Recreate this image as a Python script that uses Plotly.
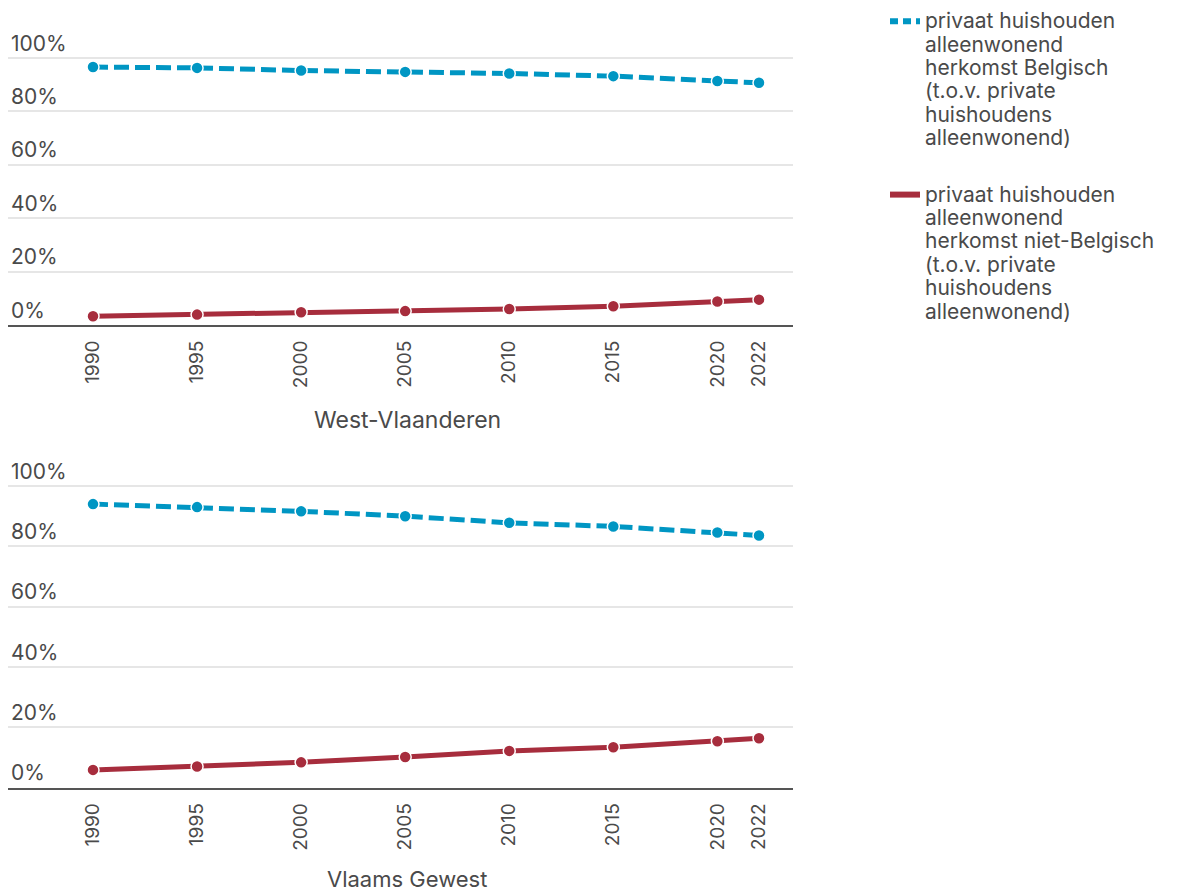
import plotly.graph_objects as go

years = [1990, 1995, 2000, 2005, 2010, 2015, 2020, 2022]
wvl_belg = [96.6, 96.3, 95.3, 94.8, 94.2, 93.2, 91.4, 90.7]
wvl_niet = [3.3, 3.9, 4.8, 5.2, 6.0, 7.0, 8.8, 9.5]
vl_belg = [94.0, 93.0, 91.6, 90.0, 87.8, 86.6, 84.6, 83.6]
vl_niet = [5.9, 7.0, 8.4, 10.2, 12.2, 13.4, 15.4, 16.4]
y_ticks = [0, 20, 40, 60, 80, 100]
y_ticktext = ["0%", "20%", "40%", "60%", "80%", "100%"]
x_ticks = [1990, 1995, 2000, 2005, 2010, 2015, 2020, 2022]
panel_titles = ["West-Vlaanderen", "Vlaams Gewest"]
lines_belg = ["privaat huishouden", "alleenwonend", "herkomst Belgisch",
              "(t.o.v. private", "huishoudens", "alleenwonend)"]
lines_niet = ["privaat huishouden", "alleenwonend", "herkomst niet-Belgisch",
              "(t.o.v. private", "huishoudens", "alleenwonend)"]

BLUE = "#0096c3"
RED = "#a72d3d"
TXT = "#4a4a4a"
FONT = "Inter"

# page offset of the figure inside the browser (body margin)
OFF = 8
W, H = 1178 - OFF, 894 - OFF
PL, PR = 8, 793            # plot left/right on page
L, R = PL - OFF, W - (PR - OFF)
PW = W - L - R
YMAX = 115

def legend_name(lines):
    return "<br>".join('<span style="font-size:21px">%s</span>' % s for s in lines)

fig = go.Figure()

def add_series(xa, ya, blue, red):
    fig.add_trace(go.Scatter(x=years, y=blue, mode="lines+markers", xaxis=xa, yaxis=ya,
                             line=dict(color=BLUE, width=5, dash="15px,6px"),
                             marker=dict(size=12, color=BLUE, line=dict(color="white", width=1.5)),
                             showlegend=False, hoverinfo="x+y"))
    fig.add_trace(go.Scatter(x=years, y=red, mode="lines+markers", xaxis=xa, yaxis=ya,
                             line=dict(color=RED, width=5),
                             marker=dict(size=12, color=RED, line=dict(color="white", width=1.5)),
                             showlegend=False, hoverinfo="x+y"))

add_series("x", "y", wvl_belg, wvl_niet)
add_series("x2", "y2", vl_belg, vl_niet)

# legend-only entries
fig.add_trace(go.Scatter(x=[None], y=[None], mode="lines", name=legend_name(lines_belg), legendgroup="a",
                         line=dict(color=BLUE, width=6, dash="8px,5px")))
fig.add_trace(go.Scatter(x=[None], y=[None], mode="lines", name=legend_name(lines_niet), legendgroup="b",
                         line=dict(color=RED, width=6)))

def py(page_px):
    return 1 - (page_px - OFF) / H

def px(page_x):
    return (page_x - OFF - L) / PW

x_range = [1990 - (93 - PL) / 20.81, 2022 + (PR - 759) / 20.81]

# pixel positions of 0% and 100% gridlines on the page
top_zero, top_hundred = 325, 58
bot_zero, bot_hundred = 787.7, 486
top_dom = [py(top_zero), py(top_zero - (top_zero - top_hundred) * YMAX / 100)]
bot_dom = [py(bot_zero), py(bot_zero - (bot_zero - bot_hundred) * YMAX / 100)]

def xaxis_cfg(anchor):
    return dict(anchor=anchor, range=x_range, tickvals=x_ticks, tickangle=-90,
                showgrid=False, zeroline=False, showline=True, linecolor="#555555", linewidth=2,
                ticks="", ticklabelstandoff=6, tickfont=dict(size=19, color=TXT, family=FONT),
                automargin=False, fixedrange=True)

def yaxis_cfg(anchor, dom):
    return dict(anchor=anchor, domain=dom, range=[0, YMAX], tickvals=y_ticks, ticktext=y_ticktext,
                ticklabelposition="inside top", showgrid=True, gridcolor="#e6e6e6", gridwidth=2,
                zeroline=False, showline=False, ticks="",
                tickfont=dict(size=21, color=TXT, family=FONT), automargin=False, fixedrange=True)

fig.update_layout(
    width=W, height=H,
    margin=dict(l=L, r=R, t=0, b=0, autoexpand=False),
    paper_bgcolor="white", plot_bgcolor="white",
    font=dict(family=FONT, color=TXT, size=20),
    xaxis=xaxis_cfg("y"),
    xaxis2=xaxis_cfg("y2"),
    yaxis=yaxis_cfg("x", top_dom),
    yaxis2=yaxis_cfg("x2", bot_dom),
    legend=dict(x=px(885), xanchor="left", y=py(3), yanchor="top", valign="top",
                font=dict(size=18, color=TXT, family=FONT), itemwidth=30,
                tracegroupgap=30, bgcolor="rgba(0,0,0,0)", itemclick=False, itemdoubleclick=False),
    showlegend=True,
    annotations=[
        dict(text=panel_titles[0], xref="paper", yref="paper", x=px(407), y=py(420),
             xanchor="center", yanchor="middle", showarrow=False, font=dict(size=23, color=TXT, family=FONT)),
        dict(text=panel_titles[1], xref="paper", yref="paper", x=px(407), y=py(879),
             xanchor="center", yanchor="middle", showarrow=False, font=dict(size=22, color=TXT, family=FONT)),
    ],
)

fig.write_html("out.html")
